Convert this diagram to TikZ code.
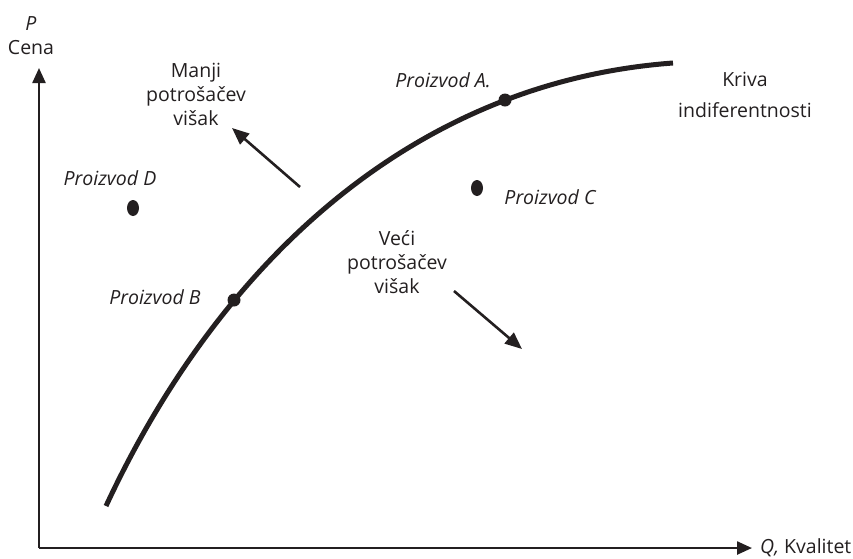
\documentclass[tikz,border=0pt]{standalone}
\usepackage{fontspec}
\setmainfont{Open Sans}
\usepackage{tikz}
\usetikzlibrary{arrows.meta, positioning, shapes.geometric}
\definecolor{inkgray}{RGB}{35,31,32}
\tikzset{
    axisline/.style={line width=2.4pt, color=inkgray, -{Triangle[length=15pt, width=13pt]}},
    curveline/.style={line width=5pt, color=inkgray},
    hintarrow/.style={line width=2.6pt, color=inkgray, -{Triangle[length=17pt, width=14pt]}},
    pointdot/.style={circle, fill=inkgray, inner sep=0pt, minimum size=13pt},
    loosedot/.style={ellipse, fill=inkgray, inner sep=0pt, minimum width=12pt, minimum height=16pt},
    prodlabel/.style={font=\fontsize{19.5}{24}\selectfont\itshape, text=inkgray, inner sep=0pt},
    notelabel/.style={font=\fontsize{19.5}{24}\selectfont, text=inkgray, inner sep=0pt, align=center}
}
\begin{document}
\begin{tikzpicture}[x=1pt, y=-1pt]
    \useasboundingbox (0,0) rectangle (853,558);
    \coordinate (origin) at (39,548);
    \coordinate (ytop) at (39,68);
    \coordinate (xend) at (752,548);
    \draw [axisline] (origin) -- (ytop);
    \draw [axisline] (origin) -- (xend);
    \node (ylab) [notelabel, above=13pt of ytop, xshift=-8pt] {\textit{P}\\Cena};
    \node (xlab) [notelabel, right=8pt of xend] {\textit{Q,} Kvalitet};

    \coordinate (cstart) at (106,506);
    \coordinate (cend) at (673,63);
    \draw [curveline] (cstart) .. controls (220,261) and (414,82) .. (cend);
    \node (pa) [pointdot] at (505,100) {};
    \node (pb) [pointdot] at (234,300) {};
    \node (pc) [loosedot] at (477,188) {};
    \node (pd) [loosedot] at (133,208) {};

    \node (la) [prodlabel] at (443,80) {Proizvod A.};
    \node (lb) [prodlabel] at (155,297) {Proizvod B};
    \node (lc) [prodlabel] at (550,197) {Proizvod C};
    \node (ld) [prodlabel] at (110,178) {Proizvod D};
    \node (less) [notelabel] at (196,94) {Manji\\potrošačev\\višak};
    \node (more) [notelabel] at (397,262) {Veći\\potrošačev\\višak};
    \node (kriva) [notelabel] at (745,95) {Kriva\\[7pt]indiferentnosti};

    \coordinate (lesstail) at (300,187);
    \coordinate (lesstip) at (232,128);
    \coordinate (moretail) at (454,291);
    \coordinate (moretip) at (522,349);
    \draw [hintarrow] (lesstail) -- (lesstip);
    \draw [hintarrow] (moretail) -- (moretip);
\end{tikzpicture}
\end{document}
